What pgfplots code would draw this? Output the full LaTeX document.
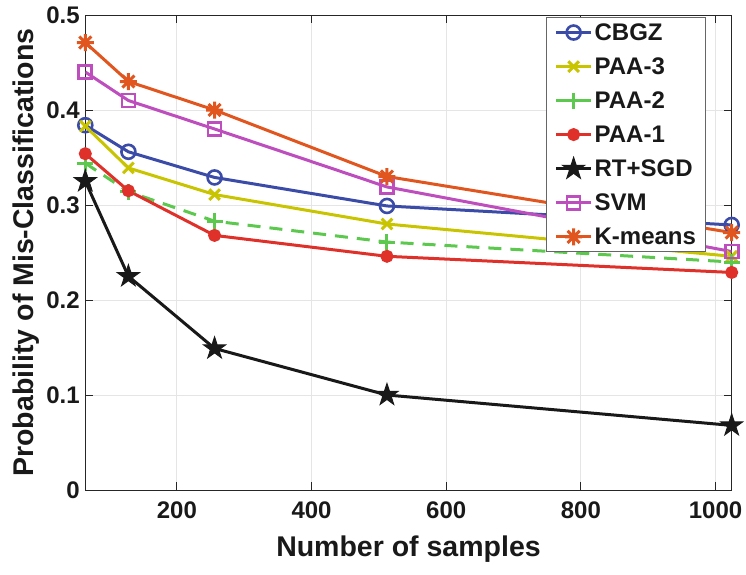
\documentclass[border=0pt]{standalone}
\usepackage{fontspec}
\setmainfont{Liberation Sans}
\usepackage{pgfplots}
\pgfplotsset{compat=1.18}
\definecolor{cbgz}{HTML}{3B4BA8}
\definecolor{paathree}{HTML}{C8C400}
\definecolor{paatwo}{HTML}{5CC84E}
\definecolor{paaone}{HTML}{E0302A}
\definecolor{svm}{HTML}{BE4DBE}
\definecolor{kmeans}{HTML}{E0561E}
\pgfdeclareplotmark{pentagram}{%
  \pgfpathmoveto{\pgfpointpolar{90}{\pgfplotmarksize}}%
  \pgfpathlineto{\pgfpointpolar{126}{0.382\pgfplotmarksize}}%
  \pgfpathlineto{\pgfpointpolar{162}{\pgfplotmarksize}}%
  \pgfpathlineto{\pgfpointpolar{198}{0.382\pgfplotmarksize}}%
  \pgfpathlineto{\pgfpointpolar{234}{\pgfplotmarksize}}%
  \pgfpathlineto{\pgfpointpolar{270}{0.382\pgfplotmarksize}}%
  \pgfpathlineto{\pgfpointpolar{306}{\pgfplotmarksize}}%
  \pgfpathlineto{\pgfpointpolar{342}{0.382\pgfplotmarksize}}%
  \pgfpathlineto{\pgfpointpolar{18}{\pgfplotmarksize}}%
  \pgfpathlineto{\pgfpointpolar{54}{0.382\pgfplotmarksize}}%
  \pgfpathclose
  \pgfusepathqfillstroke}
\pgfdeclareplotmark{mast}{%
  \pgfpathmoveto{\pgfpoint{-\pgfplotmarksize}{0pt}}\pgfpathlineto{\pgfpoint{\pgfplotmarksize}{0pt}}%
  \pgfpathmoveto{\pgfpoint{0pt}{-\pgfplotmarksize}}\pgfpathlineto{\pgfpoint{0pt}{\pgfplotmarksize}}%
  \pgfpathmoveto{\pgfpoint{-0.707\pgfplotmarksize}{-0.707\pgfplotmarksize}}\pgfpathlineto{\pgfpoint{0.707\pgfplotmarksize}{0.707\pgfplotmarksize}}%
  \pgfpathmoveto{\pgfpoint{-0.707\pgfplotmarksize}{0.707\pgfplotmarksize}}\pgfpathlineto{\pgfpoint{0.707\pgfplotmarksize}{-0.707\pgfplotmarksize}}%
  \pgfusepathqstroke}
\begin{document}
\begin{tikzpicture}
\useasboundingbox (-85.3pt,-84pt) rectangle (660.7pt,490pt);
\begin{axis}[
  at={(0,0)}, anchor=south west,
  scale only axis, width=646.4pt, height=475pt,
  xmin=64, xmax=1024, ymin=0, ymax=0.5,
  xtick={200,400,600,800,1000},
  xticklabels={200,400,600,800,1000},
  ytick={0,0.1,0.2,0.3,0.4,0.5},
  yticklabels={0,0.1,0.2,0.3,0.4,0.5},
  tick label style={font=\fontsize{24}{27}\selectfont\bfseries, text=black!90},
  xticklabel style={yshift=-8pt},
  yticklabel style={xshift=-2pt},
  label style={font=\fontsize{28.5}{31}\selectfont\bfseries, text=black!90},
  xlabel={Number of samples},
  ylabel={Probability of Mis-Classifications},
  xlabel style={yshift=-10pt},
  ylabel style={yshift=0pt},
  grid=major,
  major grid style={color=black!10, line width=0.8pt},
  axis line style={color=black!85, line width=1pt},
  tick style={color=black!85, line width=1pt},
  major tick length=8pt,
  tick align=inside,
  legend style={at={(0.961,0.996)}, anchor=north east, draw=black!60, line width=1pt,
    font=\fontsize{24}{27}\selectfont\bfseries, text=black!90,
    row sep=11.8pt, inner xsep=8pt, inner ysep=4pt},
  legend cell align=left,
  legend image code/.code={%
    \draw[mark repeat=2, mark phase=2, #1] plot coordinates {(0pt,0pt) (17.5pt,0pt) (35pt,0pt)};},
]
\addplot[color=cbgz, line width=3pt, mark=o, mark size=7pt, mark options={line width=2.6pt}] coordinates {
(64,0.384) (128,0.356) (256,0.329) (512,0.299) (1024,0.279)};
\addlegendentry{CBGZ}
\addplot[color=paathree, line width=3pt, mark=x, mark size=7.5pt, mark options={line width=3pt}] coordinates {
(64,0.383) (128,0.339) (256,0.311) (512,0.280) (1024,0.246)};
\addlegendentry{PAA-3}
\addplot[color=paatwo, line width=3pt, dash pattern=on 13pt off 9pt, mark=+, mark size=8pt, mark options={solid, line width=3pt}] coordinates {
(64,0.344) (128,0.314) (256,0.283) (512,0.261) (1024,0.240)};
\addlegendentry{PAA-2}
\addplot[color=paaone, line width=3pt, mark=*, mark size=5pt] coordinates {
(64,0.354) (128,0.315) (256,0.268) (512,0.246) (1024,0.229)};
\addlegendentry{PAA-1}
\addplot[color=black!90, line width=3pt, mark=pentagram, mark size=11.5pt, mark options={fill=black!90, line width=1pt}] coordinates {
(64,0.325) (128,0.225) (256,0.149) (512,0.100) (1024,0.068)};
\addlegendentry{RT+SGD}
\addplot[color=svm, line width=3pt, mark=square, mark size=6.5pt, mark options={line width=2.6pt}] coordinates {
(64,0.440) (128,0.410) (256,0.380) (512,0.319) (1024,0.251)};
\addlegendentry{SVM}
\addplot[color=kmeans, line width=3pt, mark=mast, mark size=8.5pt, mark options={line width=3pt}] coordinates {
(64,0.471) (128,0.430) (256,0.400) (512,0.330) (1024,0.271)};
\addlegendentry{K-means}
\end{axis}
\end{tikzpicture}
\end{document}
